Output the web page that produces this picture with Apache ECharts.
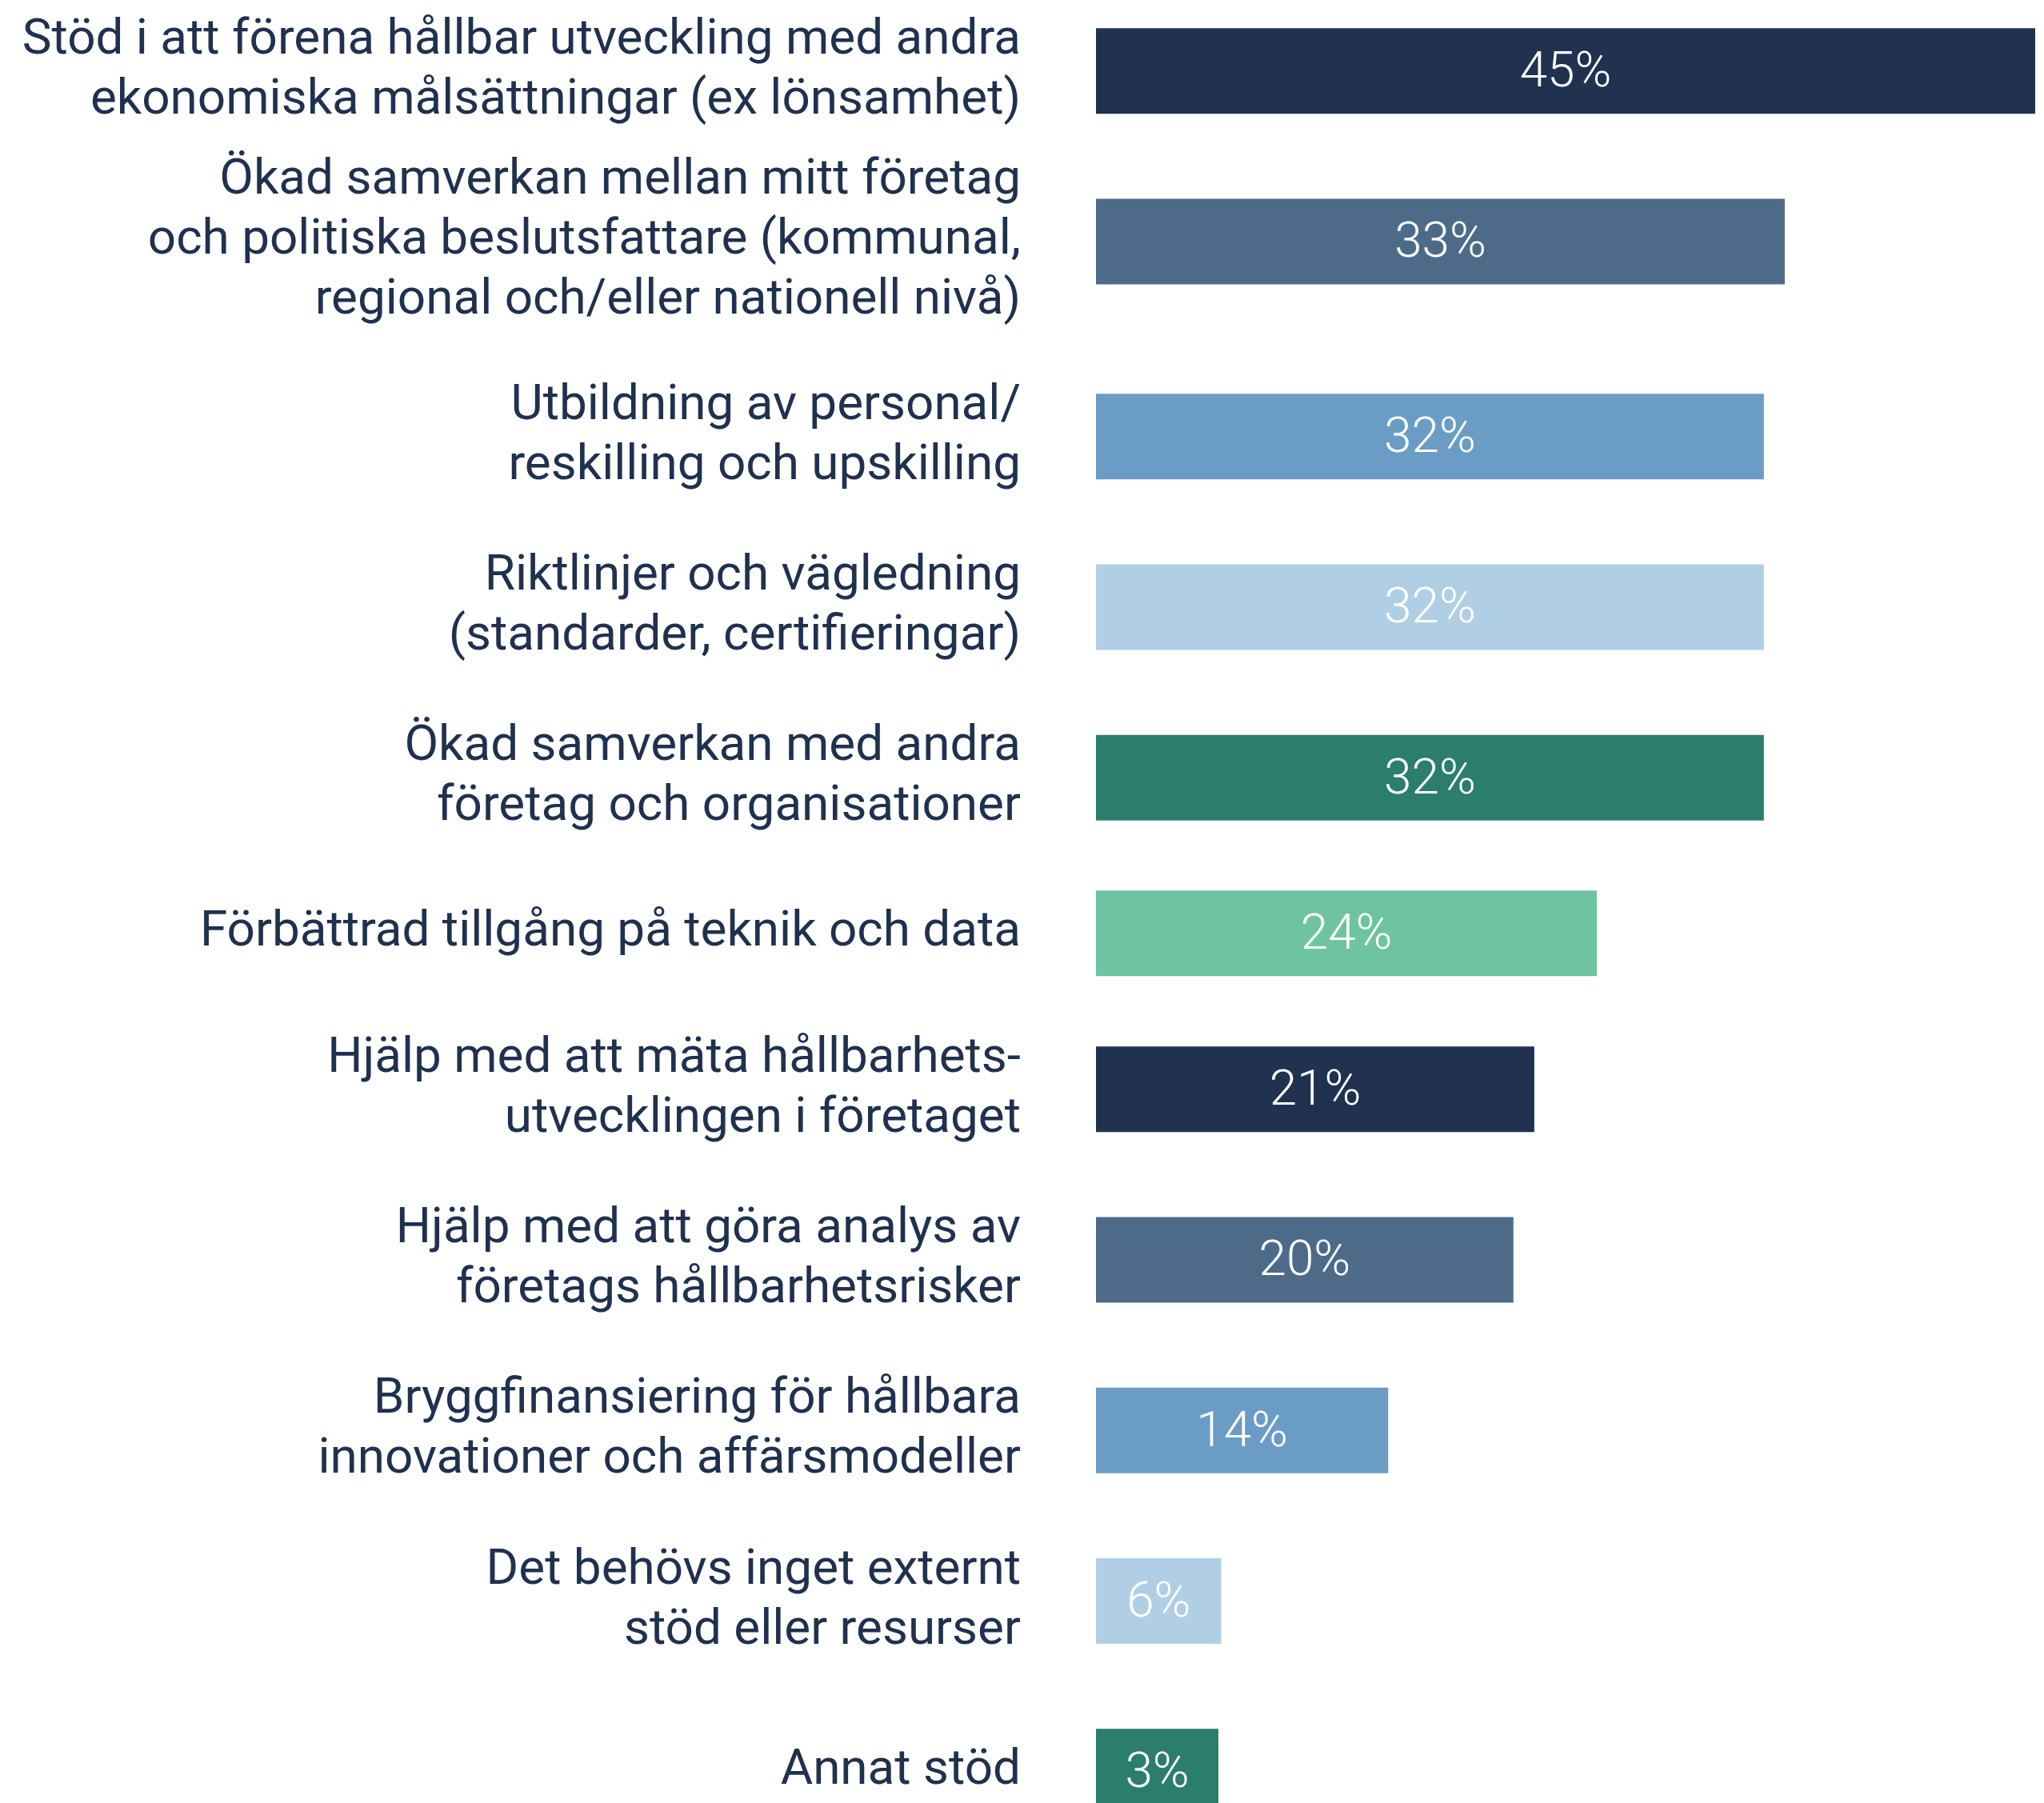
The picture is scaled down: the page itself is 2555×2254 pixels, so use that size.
<!DOCTYPE html>
<html>
<head>
<meta charset="utf-8">
<script src="https://cdn.jsdelivr.net/npm/echarts@6/dist/echarts.min.js"></script>
<style>
  html, body { margin: 0; padding: 0; background: #fff; }
  #chart { width: 2555px; height: 2254px; }
</style>
</head>
<body>
<div id="chart"></div>
<script>
// categories, top to bottom
const categories = [
  'Stöd i att förena hållbar utveckling med andra\nekonomiska målsättningar (ex lönsamhet)',
  'Ökad samverkan mellan mitt företag\noch politiska beslutsfattare (kommunal,\nregional och/eller nationell nivå)',
  'Utbildning av personal/\nreskilling och upskilling',
  'Riktlinjer och vägledning\n(standarder, certifieringar)',
  'Ökad samverkan med andra\nföretag och organisationer',
  'Förbättrad tillgång på teknik och data',
  'Hjälp med att mäta hållbarhets-\nutvecklingen i företaget',
  'Hjälp med att göra analys av\nföretags hållbarhetsrisker',
  'Bryggfinansiering för hållbara\ninnovationer och affärsmodeller',
  'Det behövs inget externt\nstöd eller resurser',
  'Annat stöd'
];
const shares = [45, 33, 32, 32, 32, 24, 21, 20, 14, 6, 3];

const palette = ['#20324f', '#4d6a89', '#6a9cc6', '#b0cfe5', '#2b7d6d', '#6ec4a0'];
const textColor = '#20314f';

// rows are not evenly spaced in the original, so split into a few stacked grids
const rowGroups = [[0, 2], [2, 5], [5, 6], [6, 11]];
const groupTops = [-18, 439, 1060, 1255];
const band = 213.3;

const grids = [], xAxes = [], yAxes = [], series = [];
rowGroups.forEach(([from, to], g) => {
  grids.push({
    left: 1370, right: 11, top: groupTops[g], height: (to - from) * band,
    outerBoundsMode: 'none', containLabel: false
  });
  xAxes.push({ gridIndex: g, type: 'value', min: 0, max: 45, show: false });
  yAxes.push({
    gridIndex: g,
    type: 'category',
    data: categories.slice(from, to),
    inverse: true,
    axisLine: { show: false },
    axisTick: { show: false },
    axisLabel: {
      margin: 94,
      color: textColor,
      fontFamily: 'Roboto',
      fontSize: 62,
      lineHeight: 75,
      align: 'right'
    }
  });
  series.push({
    type: 'bar',
    xAxisIndex: g,
    yAxisIndex: g,
    barWidth: 107,
    barMinHeight: 153,
    data: shares.slice(from, to).map((v, i) => ({
      value: v,
      itemStyle: { color: palette[(from + i) % palette.length] }
    })),
    label: {
      show: true,
      position: 'inside',
      offset: [0, 4],
      color: '#ffffff',
      fontFamily: 'Roboto',
      fontWeight: 300,
      fontSize: 62,
      formatter: p => p.value + '%'
    }
  });
});

const chart = echarts.init(document.getElementById('chart'));

chart.setOption({
  backgroundColor: '#ffffff',
  animation: false,
  grid: grids,
  xAxis: xAxes,
  yAxis: yAxes,
  series: series
});
</script>
</body>
</html>
